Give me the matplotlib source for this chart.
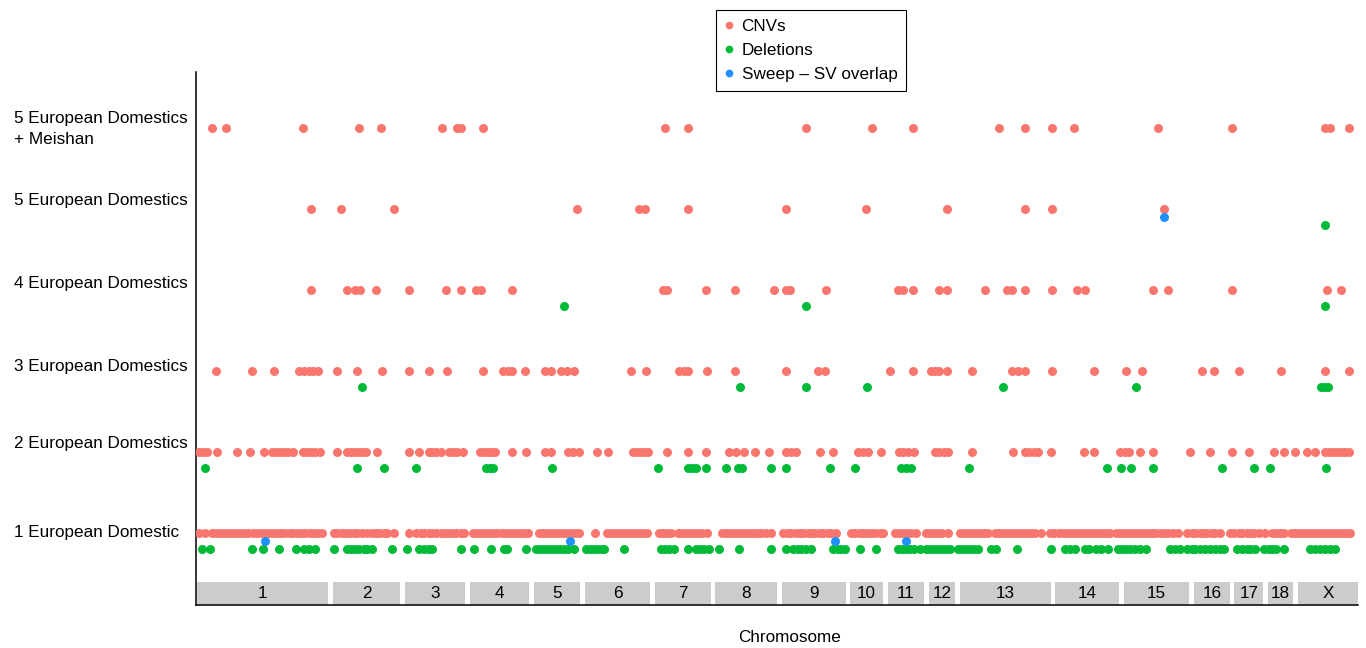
import numpy as np
import matplotlib.pyplot as plt
from matplotlib.lines import Line2D
from matplotlib.patches import Rectangle
from matplotlib.transforms import blended_transform_factory

plt.rcParams["font.family"] = ["Liberation Sans", "DejaVu Sans"]
FS = 12.3

# chromosome names and lengths (Mb), laid end to end with a small gap
chroms = ["1", "2", "3", "4", "5", "6", "7", "8", "9", "10",
          "11", "12", "13", "14", "15", "16", "17", "18", "X"]
chrom_len = [315.3, 162.6, 144.8, 143.5, 111.5, 157.8, 134.8, 148.5, 153.7, 79.1,
             87.7, 63.6, 218.6, 153.9, 157.7, 86.9, 69.7, 61.2, 144.3]
gap = 11

row_labels = ["1 European Domestic", "2 European Domestics", "3 European Domestics",
              "4 European Domestics", "5 European Domestics",
              "5 European Domestics\n+ Meishan"]

# genome positions (Mb, concatenated axis) per row
cnv = {
    1: [5, 19, 36, 46, 55, 65, 74, 84, 94, 103, 113, 122, 134, 144, 154, 163, 173, 182,
        192, 202, 211, 223, 230, 240, 250, 259, 271, 281, 290, 300,
        329, 338, 348, 358, 367, 377, 386, 398, 410, 420, 430, 439, 449, 456, 473,
        509, 528, 538, 547, 557, 566, 576, 586, 595, 605, 614, 624, 634, 643,
        665, 674, 684, 694, 703, 713, 722, 734, 744, 754, 763, 773, 782, 792, 797,
        823, 833, 842, 852, 862, 871, 881, 890, 900, 910, 919,
        958, 986, 996, 1006, 1015, 1025, 1034, 1044, 1054, 1063, 1073, 1082,
        1111, 1121, 1130, 1140, 1157, 1166, 1176, 1186, 1195, 1205, 1214, 1226,
        1262, 1272, 1282, 1291, 1301, 1310, 1320, 1330, 1339, 1349, 1358, 1368, 1380,
        1411, 1421, 1430, 1440, 1450, 1459, 1469, 1478, 1488, 1498, 1507, 1517, 1526, 1538,
        1574, 1584, 1594, 1603, 1613, 1622, 1632, 1642, 1651,
        1680, 1690, 1699, 1709, 1718, 1730, 1754, 1764, 1774, 1783, 1793, 1807,
        1836, 1846, 1855, 1865, 1874, 1884, 1894, 1903, 1920, 1930, 1939, 1949, 1958,
        1968, 1978, 1987, 1997, 2006, 2016, 2030,
        2052, 2062, 2074, 2083, 2093, 2102, 2112, 2122, 2131, 2141, 2150, 2160, 2170,
        2179, 2186, 2196,
        2210, 2220, 2230, 2239, 2249, 2258, 2268, 2278, 2287, 2297, 2306, 2316, 2326,
        2335, 2347, 2359,
        2383, 2393, 2402, 2412, 2422, 2431, 2441, 2450, 2462,
        2486, 2496, 2506, 2515, 2525, 2534, 2544, 2556, 2570, 2587, 2597, 2606, 2616,
        2633, 2642, 2652, 2662, 2671, 2681, 2690, 2700, 2710, 2719, 2729, 2738, 2748,
        2758, 2767, 2774],
    2: [5, 14, 24, 48, 96, 127, 161, 180, 190, 199, 209, 218, 230, 254, 264, 274, 283,
        295, 336, 360, 370, 379, 389, 398, 406, 434, 511, 533, 557, 566, 576, 586,
        607, 617, 626, 641, 682, 691, 701, 710, 718, 758, 792, 838, 852, 893, 905, 919,
        962, 989, 1049, 1058, 1068, 1078, 1085, 1130, 1181, 1224, 1279, 1296, 1315,
        1342, 1375, 1416, 1428, 1440, 1498, 1529, 1591, 1603, 1615, 1646, 1690, 1699,
        1711, 1726, 1776, 1786, 1798, 1807, 1865, 1963, 1992, 2002, 2014, 2023, 2054,
        2134, 2158, 2220, 2232, 2242, 2268, 2299, 2388, 2436, 2489, 2532, 2592, 2616,
        2642, 2671, 2690, 2714, 2724, 2734, 2743, 2753, 2762, 2772],
    3: [46, 132, 185, 245, 257, 269, 278, 290, 338, 384, 446, 511, 559, 602, 689, 737,
        749, 758, 790, 838, 852, 876, 890, 907, 1044, 1080, 1159, 1171, 1181, 1226,
        1294, 1418, 1493, 1510, 1668, 1723, 1766, 1776, 1786, 1805, 1865, 1961, 1975,
        1992, 2057, 2158, 2234, 2273, 2417, 2446, 2508, 2609, 2714, 2772],
    4: [274, 360, 379, 391, 430, 511, 598, 636, 672, 684, 758, 1121, 1130, 1224, 1294,
        1387, 1416, 1426, 1514, 1687, 1699, 1723, 1786, 1805, 1896, 1949, 1961, 1992,
        2057, 2117, 2136, 2299, 2335, 2489, 2719, 2753],
    5: [274, 346, 473, 914, 1063, 1078, 1181, 1416, 1610, 1805, 1992, 2057, 2326],
    6: [36, 70, 254, 389, 442, 590, 626, 636, 689, 1126, 1181, 1466, 1625, 1723, 1930,
        1992, 2057, 2110, 2311, 2491, 2714, 2726, 2772],
}

deletions = {
    1: [12, 31, 132, 158, 197, 238, 257, 269, 283, 329, 360, 370, 379, 389, 401, 410,
        422, 470, 506, 535, 545, 557, 566, 636, 667, 708, 739, 746, 792, 816, 826, 835,
        845, 854, 864, 874, 883, 893, 907, 936, 946, 955, 965, 974, 979, 1027,
        1116, 1126, 1135, 1147, 1181, 1200, 1210, 1219, 1231, 1255, 1303, 1382, 1418,
        1435, 1445, 1454, 1464, 1478, 1531, 1541, 1550, 1560, 1596, 1634, 1687, 1697,
        1706, 1716, 1726, 1740, 1754, 1764, 1774, 1783, 1793, 1802, 1812, 1831, 1841,
        1850, 1860, 1870, 1879, 1910, 1922, 1973, 2054, 2088, 2100, 2112, 2136, 2146,
        2162, 2174, 2191, 2215, 2225, 2234, 2244, 2256, 2268, 2282, 2340, 2352, 2366,
        2383, 2393, 2402, 2412, 2424, 2438, 2450, 2460, 2472, 2503, 2513, 2525, 2534,
        2546, 2568, 2578, 2587, 2597, 2616, 2678, 2690, 2702, 2714, 2726, 2738],
    2: [19, 386, 449, 528, 696, 706, 713, 854, 1109, 1181, 1190, 1200, 1224, 1272,
        1301, 1310, 1380, 1416, 1524, 1584, 1694, 1706, 1718, 1858, 2189, 2222, 2246,
        2299, 2465, 2544, 2582, 2717],
    3: [398, 1306, 1466, 1613, 1939, 2258, 2705, 2714, 2722],
    4: [883, 1464, 2714],
    5: [2714],
}

sweep = {
    1: [163, 898, 1534, 1706],
    5: [2326],
}

CNV_COL = "#F8766D"
DEL_COL = "#00BA38"
SWEEP_COL = "#1E90FF"

fig = plt.figure(figsize=(13.66, 6.48), dpi=100)
ax = fig.add_axes([196 / 1366, 43 / 648, 1162 / 1366, 533 / 648])

size = 42
for row, xs in cnv.items():
    ax.scatter(xs, np.full(len(xs), row), s=size, color=CNV_COL, linewidths=0, zorder=3)
for row, xs in deletions.items():
    ax.scatter(xs, np.full(len(xs), row - 0.2), s=size, color=DEL_COL, linewidths=0, zorder=3)
for row, xs in sweep.items():
    ax.scatter(xs, np.full(len(xs), row - 0.1), s=size, color=SWEEP_COL, linewidths=0, zorder=4)

# chromosome boxes along the bottom
offset = 0
for name, length in zip(chroms, chrom_len):
    ax.add_patch(Rectangle((offset, 0.111), length, 0.284, facecolor="#CCCCCC",
                           edgecolor="none", zorder=2))
    ax.text(offset + length / 2, 0.25, name, ha="center", va="center", fontsize=FS)
    offset += length + gap

ax.set_xlim(-2.4, offset - gap)
ax.set_ylim(0.111, 6.69)
ax.set_xticks([])
ax.set_yticks([])
for side in ["top", "right"]:
    ax.spines[side].set_visible(False)
for side in ["left", "bottom"]:
    ax.spines[side].set_linewidth(1.1)
    ax.spines[side].set_color("black")

label_y = [1.0, 2.1, 3.06, 4.08, 5.11, 5.985]
trans = blended_transform_factory(fig.transFigure, ax.transData)
for lab, yy in zip(row_labels, label_y):
    ax.text(14 / 1366, yy, lab, transform=trans, ha="left", va="center",
            fontsize=FS, linespacing=1.48)

fig.text(790 / 1366, 1 - 637 / 648, "Chromosome", ha="center", va="center", fontsize=FS)

handles = [
    Line2D([], [], marker="o", linestyle="none", color=CNV_COL, markersize=4.5, label="CNVs"),
    Line2D([], [], marker="o", linestyle="none", color=DEL_COL, markersize=4.5, label="Deletions"),
    Line2D([], [], marker="o", linestyle="none", color=SWEEP_COL, markersize=4.5,
           label="Sweep \u2013 SV overlap"),
]
leg = fig.legend(handles=handles, loc="upper left",
                 bbox_to_anchor=(716 / 1366, 1 - 10 / 648), fontsize=FS,
                 frameon=True, fancybox=False, edgecolor="black", framealpha=1,
                 handlelength=0.5, handletextpad=0.5, borderpad=0.5, labelspacing=0.55,
                 borderaxespad=0)
leg.get_frame().set_linewidth(0.8)

fig.savefig("out.png", dpi=100)
